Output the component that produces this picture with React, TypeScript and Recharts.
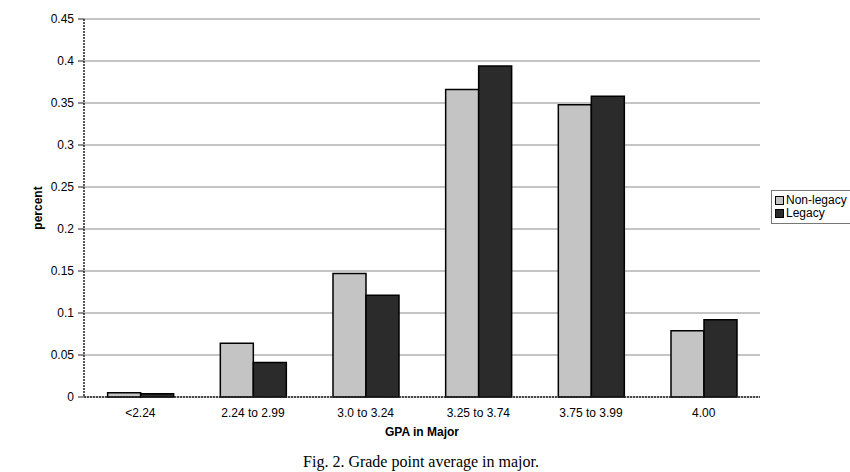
import React from 'react';
import { BarChart, Bar, XAxis, YAxis, CartesianGrid, Legend } from 'recharts';

const categories = ['<2.24', '2.24 to 2.99', '3.0 to 3.24', '3.25 to 3.74', '3.75 to 3.99', '4.00'];
const nonLegacy = [0.005, 0.064, 0.147, 0.366, 0.348, 0.079];
const legacy = [0.004, 0.041, 0.121, 0.394, 0.358, 0.092];
const yTicks = [0, 0.05, 0.1, 0.15, 0.2, 0.25, 0.3, 0.35, 0.4, 0.45];
const boundaryTicks = [0, 1, 2, 3, 4, 5, 6];

const data = categories.map((c, i) => ({
  category: c,
  'Non-legacy': nonLegacy[i],
  Legacy: legacy[i],
}));

const LIGHT = '#c4c4c4';
const DARK = '#2b2b2b';
const font = '"Liberation Sans", Arial, sans-serif';

const LegendBox = () => (
  <div
    style={{
      border: '1px solid #777',
      padding: '3px 4px 3px 3px',
      fontFamily: font,
      fontSize: 12,
      color: '#000',
      lineHeight: '13px',
      background: '#fff',
      whiteSpace: 'nowrap',
      width: 'max-content',
    }}
  >
    {[
      { name: 'Non-legacy', color: LIGHT },
      { name: 'Legacy', color: DARK },
    ].map((it) => (
      <div key={it.name} style={{ display: 'flex', alignItems: 'center' }}>
        <span
          style={{
            display: 'inline-block',
            width: 7,
            height: 7,
            background: it.color,
            border: '1px solid #000',
            marginRight: 2,
          }}
        />
        {it.name}
      </div>
    ))}
  </div>
);

export default function App() {
  return (
    <div style={{ position: 'absolute', left: 0, top: 0, width: 850, height: 472, background: '#fff' }}>
      <BarChart
        width={850}
        height={445}
        data={data}
        margin={{ top: 19, right: 90, bottom: 5, left: 0 }}
        barCategoryGap="21%"
        barGap={0}
      >
        <CartesianGrid vertical={false} stroke="#8a8a8a" strokeWidth={1} />
        <XAxis
          xAxisId="b"
          type="number"
          domain={[0, 6]}
          ticks={boundaryTicks}
          tickFormatter={() => ''}
          axisLine={false}
          tickSize={5}
          tickLine={{ stroke: '#555' }}
          height={0}
        />
        <XAxis
          dataKey="category"
          tickLine={false}
          axisLine={{ stroke: '#222', strokeWidth: 1.5, strokeDasharray: '2 1' }}
          tick={{ fontSize: 12, fill: '#000', fontFamily: font }}
          height={43}
          tickMargin={5}
          interval={0}
          label={{
            value: 'GPA in Major',
            position: 'insideBottom',
            offset: 4,
            style: { fontSize: 12, fontWeight: 'bold', fill: '#000', fontFamily: font },
          }}
        />
        <YAxis
          domain={[0, 0.45]}
          ticks={yTicks}
          tickFormatter={(v: number) => String(v)}
          width={84}
          tickSize={6}
          tickMargin={4}
          tickLine={{ stroke: '#222' }}
          axisLine={{ stroke: '#222', strokeWidth: 1.5, strokeDasharray: '2 1' }}
          tick={{ fontSize: 12, fill: '#000', fontFamily: font }}
          label={{
            value: 'percent',
            angle: -90,
            position: 'center',
            dx: -4,
            style: { fontSize: 12, fontWeight: 'bold', fill: '#000', fontFamily: font },
          }}
        />
        <YAxis
          yAxisId="r"
          orientation="right"
          width={0}
          tick={false}
          tickLine={false}
          axisLine={{ stroke: '#444', strokeWidth: 1.5, strokeDasharray: '2 1' }}
        />
        <Legend
          layout="horizontal"
          verticalAlign="middle"
          align="center"
          wrapperStyle={{ position: 'absolute', left: 771, top: 190, width: 78 }}
          content={() => <LegendBox />}
        />
        <Bar dataKey="Non-legacy" fill={LIGHT} stroke="#000" strokeWidth={1.5} isAnimationActive={false} />
        <Bar dataKey="Legacy" fill={DARK} stroke="#000" strokeWidth={1.5} isAnimationActive={false} />
      </BarChart>
      <div
        style={{
          position: 'absolute',
          left: 0,
          width: 850,
          top: 453,
          textAlign: 'center',
          fontFamily: '"Liberation Serif", "Times New Roman", serif',
          fontSize: 16,
          color: '#000',
          paddingRight: 8,
          boxSizing: 'border-box',
        }}
      >
        Fig. 2. Grade point average in major.
      </div>
    </div>
  );
}
